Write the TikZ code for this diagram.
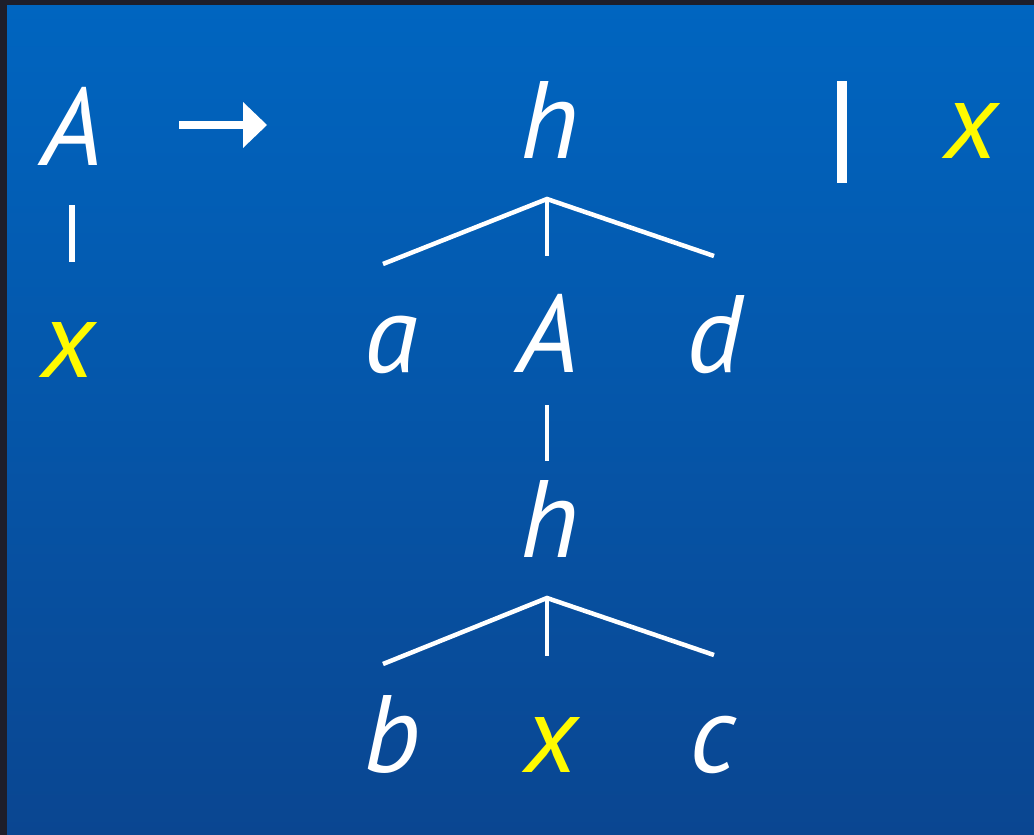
\documentclass[tikz,border=0pt]{standalone}
\usepackage{fontspec}
\setmainfont{PT Sans}
\definecolor{bgdark}{RGB}{30,30,42}
\definecolor{bgtop}{RGB}{0,101,192}
\definecolor{bgbot}{RGB}{10,70,145}
\definecolor{hlyellow}{RGB}{255,250,0}
\begin{document}
\begin{tikzpicture}[x=1pt,y=-1pt,
  lbl/.style={anchor=base, inner sep=0pt, font=\fontsize{110}{120}\selectfont\itshape, text=white},
  hl/.style={lbl, text=hlyellow},
  edge/.style={draw=white, line width=4.5pt},
  bar/.style={fill=white}]
\useasboundingbox (0,0) rectangle (1034,835);
\fill[bgdark] (0,0) rectangle (1034,835);
\shade[top color=bgtop, bottom color=bgbot] (7,5) rectangle (1034,835);

% top rule
\node[lbl] (lA) at (72,165) {A};
\fill[white] (179,121) rectangle (244,129);
\fill[white] (243,102) -- (267,125) -- (243,148) -- cycle;
\node[lbl] (h1) at (550,158) {h};
\fill[white] (837,81) rectangle (847,183);
\node[hl] (rx) at (971,158) {x};

% left tree
\fill[white] (69,205) rectangle (75,262);
\node[hl] (lx) at (68,377) {x};

% tree 1
\coordinate (ap1) at (547,199);
\coordinate (l1) at (383,264);
\coordinate (m1) at (547,256);
\coordinate (r1) at (714,256);
\draw[edge] (l1) -- (ap1) -- (r1);
\draw[edge] (ap1) -- (m1);
\node[lbl] (a) at (391,372) {a};
\node[lbl] (A2) at (548,372) {A};
\node[lbl] (d) at (714,372) {d};

% middle link
\coordinate (mt) at (547,405);
\coordinate (mb) at (547,461);
\draw[edge] (mt) -- (mb);

% tree 2
\node[lbl] (h2) at (550,557) {h};
\coordinate (ap2) at (547,598);
\coordinate (l2) at (383,664);
\coordinate (m2) at (547,656);
\coordinate (r2) at (714,655);
\draw[edge] (l2) -- (ap2) -- (r2);
\draw[edge] (ap2) -- (m2);
\node[lbl] (b) at (392,772) {b};
\node[hl] (bx) at (551,772) {x};
\node[lbl] (c) at (713,772) {c};
\end{tikzpicture}
\end{document}
